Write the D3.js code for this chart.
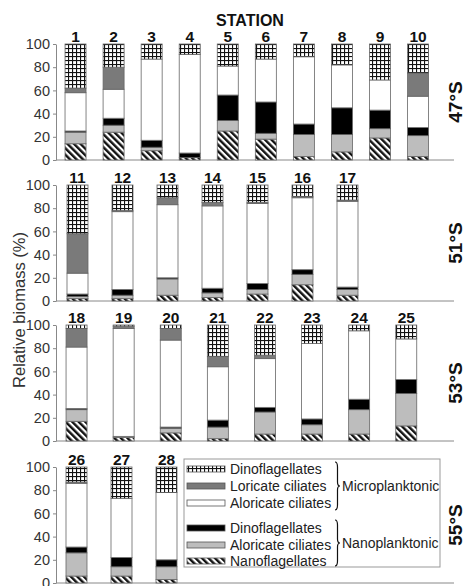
<!DOCTYPE html>
<html><head><meta charset="utf-8">
<script src="https://cdn.jsdelivr.net/npm/d3@7"></script>
<style>body{margin:0;background:#fff}svg{display:block}text{font-family:"Liberation Sans",Arial,sans-serif}</style>
</head><body>
<svg id="c" width="465" height="586"></svg>
<script>
// Categories (bottom to top of each stack)
const categories = ["Nanoflagellates","Nano aloricate ciliates","Nano dinoflagellates","Micro aloricate ciliates","Loricate ciliates","Micro dinoflagellates"];
const latitudes = ["47°S","51°S","53°S","55°S"];
const stations47 = ["1","2","3","4","5","6","7","8","9","10"];
const stations51 = ["11","12","13","14","15","16","17"];
const stations53 = ["18","19","20","21","22","23","24","25"];
const stations55 = ["26","27","28"];
const tickValues = [0,20,40,60,80,100];
// Values per station, in category order
const values47 = [
  [14,10,1,33,4,38],
  [24,6,6,25,19,20],
  [8,3,6,70,0,13],
  [2,0,4,85,0,9],
  [25,9,22,25,0,19],
  [18,5,27,37,0,13],
  [3,19,9,58,0,11],
  [7,15,23,37,0,18],
  [19,8,16,26,0,31],
  [3,18,7,27,20,25]
];
const values51 = [
  [2,2,2,18,34,42],
  [2,3,5,67,1,22],
  [5,14,1,63,6,11],
  [3,4,4,71,3,15],
  [6,4,5,69,1,15],
  [14,9,4,62,1,10],
  [5,5,2,74,1,13]
];
const values53 = [
  [17,10,1,53,16,3],
  [3,1,0,93,2,1],
  [7,4,1,75,10,3],
  [2,10,6,46,9,27],
  [6,19,4,42,3,26],
  [6,8,5,65,0,16],
  [6,21,9,59,0,5],
  [13,28,12,35,0,12]
];
const values55 = [
  [6,20,5,55,1,13],
  [6,8,8,51,0,27],
  [3,11,6,58,0,22]
];
const legendLabels = ["Dinoflagellates","Loricate ciliates","Aloricate ciliates","Dinoflagellates","Aloricate ciliates","Nanoflagellates"];
const legendKeys = [5,4,3,2,1,0];
const groupLabels = ["Microplanktonic","Nanoplanktonic"];

const svg = d3.select("#c");
const defs = svg.append("defs");
// grid pattern
const pg = defs.append("pattern").attr("id","grid").attr("patternUnits","userSpaceOnUse").attr("width",4).attr("height",4);
pg.append("rect").attr("width",4).attr("height",4).attr("fill","#fff");
pg.append("rect").attr("x",0).attr("y",0).attr("width",4).attr("height",1.1).attr("fill","#111");
pg.append("rect").attr("x",0).attr("y",0).attr("width",1.1).attr("height",4).attr("fill","#111");
// stripes
const ps = defs.append("pattern").attr("id","stripe").attr("patternUnits","userSpaceOnUse").attr("width",4.6).attr("height",4.6).attr("patternTransform","rotate(-45)");
ps.append("rect").attr("width",4.6).attr("height",4.6).attr("fill","#fff");
ps.append("rect").attr("width",2.4).attr("height",4.6).attr("fill","#111");

const fills = ["url(#stripe)","#bdbdbd","#000","#fff","#7a7a7a","url(#grid)"];
const color = d3.scaleOrdinal().domain(d3.range(categories.length)).range(fills);

const panels = [
  {st:stations47, vals:values47, top:44, x0:56.5, step:38.06},
  {st:stations51, vals:values51, top:185, x0:55, step:45},
  {st:stations53, vals:values53, top:325, x0:53, step:47.1},
  {st:stations55, vals:values55, top:467, x0:54, step:45}
];
const H = 116;
const axisX = 56, axisEnd = 454;

panels.forEach((p,pi)=>{
  const g = svg.append("g");
  const y = d3.scaleLinear().domain([0,100]).range([p.top+H, p.top]);
  const x = d3.scaleBand().domain(p.st).range([p.x0, p.x0 + p.step*p.st.length]).paddingInner(1-21/p.step).paddingOuter((1-21/p.step)/2);
  // y axis
  const ax = g.append("g").attr("transform",`translate(${axisX},0)`)
    .call(d3.axisLeft(y).tickValues(tickValues).tickSize(3).tickSizeOuter(0).tickPadding(3));
  ax.select(".domain").attr("stroke","#888");
  ax.selectAll(".tick line").attr("stroke","#888");
  ax.selectAll(".tick text").attr("font-size",14.5).attr("fill","#333").attr("font-family","Liberation Sans, Arial, sans-serif");
  // x baseline
  g.append("line").attr("x1",axisX).attr("x2",axisEnd).attr("y1",y(0)).attr("y2",y(0)).attr("stroke","#888").attr("stroke-width",1);
  // stacks
  const rows = p.vals.map((v,i)=>{const o={station:p.st[i]}; v.forEach((d,j)=>o[j]=d); return o;});
  const series = d3.stack().keys(d3.range(categories.length))(rows);
  series.forEach(s=>{
    g.append("g").selectAll("rect").data(s.filter(d=>d[1]-d[0]>0)).join("rect")
      .attr("x",d=>x(d.data.station)).attr("width",x.bandwidth())
      .attr("y",d=>y(d[1])).attr("height",d=>y(d[0])-y(d[1]))
      .attr("fill",color(s.key)).attr("stroke","#666").attr("stroke-width",0.8);
  });
  // station labels
  g.selectAll("text.st").data(p.st).join("text").attr("class","st")
    .attr("x",d=>x(d)+x.bandwidth()/2).attr("y",p.top-2).attr("text-anchor","middle")
    .attr("font-size",15.5).attr("font-weight","bold").attr("fill","#111").text(d=>d);
  // latitude label
  g.append("text").attr("transform",`translate(462,${p.top+H/2}) rotate(-90)`)
    .attr("text-anchor","middle").attr("font-size",19).attr("font-weight","bold").attr("fill","#111").text(latitudes[pi]);
});

svg.append("text").attr("x",250).attr("y",26).attr("text-anchor","middle").attr("font-size",16).attr("font-weight","bold").attr("fill","#111").text("STATION");
svg.append("text").attr("transform","translate(25,310) rotate(-90)").attr("text-anchor","middle").attr("font-size",16.5).attr("fill","#333").text("Relative biomass (%)");

// legend
const lg = svg.append("g");
lg.append("rect").attr("x",184).attr("y",459).attr("width",256).attr("height",108).attr("fill","#fff").attr("stroke","#999").attr("stroke-width",1);
const ly = [469,486,503,528,545,561];
legendKeys.forEach((k,i)=>{
  lg.append("rect").attr("x",187).attr("y",ly[i]-3).attr("width",38).attr("height",6).attr("fill",color(k)).attr("stroke","#555").attr("stroke-width",0.8);
  lg.append("text").attr("x",230).attr("y",ly[i]+5).attr("font-size",14).attr("fill","#222").text(legendLabels[i]);
});
function brace(xb,y1,y2,w){const ym=(y1+y2)/2;return `M${xb},${y1} Q${xb+w},${y1} ${xb+w},${y1+5} L${xb+w},${ym-4} Q${xb+w},${ym} ${xb+2*w},${ym} Q${xb+w},${ym} ${xb+w},${ym+4} L${xb+w},${y2-5} Q${xb+w},${y2} ${xb},${y2}`;}
[[462,510],[520,566]].forEach((b,i)=>{
  lg.append("path").attr("d",brace(335,b[0],b[1],2.5)).attr("fill","none").attr("stroke","#111").attr("stroke-width",1.2);
  lg.append("text").attr("x",342).attr("y",(b[0]+b[1])/2+5).attr("font-size",14).attr("fill","#222").text(groupLabels[i]);
});
</script>
</body></html>
